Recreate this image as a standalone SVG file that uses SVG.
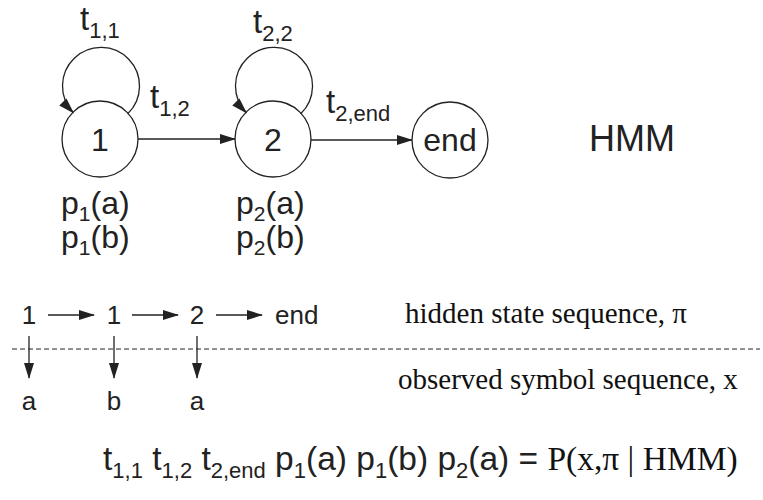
<svg xmlns="http://www.w3.org/2000/svg" width="763" height="500" viewBox="0 0 763 500">
<style>
.node{fill:none;stroke:#222;stroke-width:1.3}
.edge{fill:none;stroke:#222;stroke-width:1.3}
.s{font-family:"Liberation Sans",Arial,sans-serif;fill:#222}
.r{font-family:"Liberation Serif","Times New Roman",serif;fill:#111}
.sub{font-size:22px}
.ps{font-size:21px}
</style>
<defs>
<marker id="ah" markerWidth="16" markerHeight="10" refX="15" refY="5" orient="auto" markerUnits="userSpaceOnUse">
<path d="M0,0 L16,5 L0,10 Z" fill="#222"/>
</marker>
</defs>
<rect width="763" height="500" fill="#fff"/>
<g id="n1">
<circle class="node" cx="100" cy="139" r="38"/>
<text class="s" x="100" y="151" font-size="32" text-anchor="middle">1</text>
<text class="s" x="61" y="214" font-size="32">p<tspan class="ps" dy="7">1</tspan><tspan dy="-7">(a)</tspan></text>
<text class="s" x="61" y="248" font-size="32">p<tspan class="ps" dy="7">1</tspan><tspan dy="-7">(b)</tspan></text>
</g>
<g id="n2">
<circle class="node" cx="273" cy="139" r="38"/>
<text class="s" x="273" y="151" font-size="32" text-anchor="middle">2</text>
<text class="s" x="236" y="214" font-size="32">p<tspan class="ps" dy="7">2</tspan><tspan dy="-7">(a)</tspan></text>
<text class="s" x="236" y="248" font-size="32">p<tspan class="ps" dy="7">2</tspan><tspan dy="-7">(b)</tspan></text>
</g>
<g id="nend">
<circle class="node" cx="450" cy="140" r="38"/>
<text class="s" x="450" y="151" font-size="32" text-anchor="middle">end</text>
</g>
<g id="hmm">
<text class="s" x="589" y="151" font-size="36">HMM</text>
</g>
<g id="connectors">
<path class="edge" d="M127.7,113.7 A38.5,38.5 0 1 0 73.3,112.7" marker-end="url(#ah)"/>
<path class="edge" d="M300.7,113.7 A38.5,38.5 0 1 0 246.3,112.7" marker-end="url(#ah)"/>
<line class="edge" x1="138" y1="139" x2="235" y2="139" marker-end="url(#ah)"/>
<line class="edge" x1="311" y1="140" x2="412" y2="140" marker-end="url(#ah)"/>
<line class="edge" x1="48" y1="315" x2="94" y2="315" marker-end="url(#ah)"/>
<line class="edge" x1="132" y1="315" x2="178" y2="315" marker-end="url(#ah)"/>
<line class="edge" x1="216" y1="315" x2="262" y2="315" marker-end="url(#ah)"/>
<line class="edge" x1="29" y1="336" x2="29" y2="378" marker-end="url(#ah)"/>
<line class="edge" x1="114" y1="336" x2="114" y2="378" marker-end="url(#ah)"/>
<line class="edge" x1="197" y1="336" x2="197" y2="378" marker-end="url(#ah)"/>
<line x1="12" y1="349" x2="760" y2="349" stroke="#222" stroke-width="1.2" stroke-dasharray="5,3"/>
</g>
<g id="labels">
<text class="s" x="80" y="30" font-size="33">t<tspan class="sub" dy="8">1,1</tspan></text>
<text class="s" x="253" y="33" font-size="33">t<tspan class="sub" dy="8">2,2</tspan></text>
<text class="s" x="150" y="108" font-size="33">t<tspan class="sub" dy="8">1,2</tspan></text>
<text class="s" x="326" y="113" font-size="33">t<tspan class="sub" dy="8">2,end</tspan></text>
</g>
<g id="seq">
<text class="s" x="29" y="324" font-size="26" text-anchor="middle">1</text>
<text class="s" x="114" y="324" font-size="26" text-anchor="middle">1</text>
<text class="s" x="197" y="324" font-size="26" text-anchor="middle">2</text>
<text class="s" x="275" y="324" font-size="26">end</text>
<text class="r" x="405" y="323" font-size="29">hidden state sequence, π</text>
<text class="s" x="29" y="410" font-size="26" text-anchor="middle">a</text>
<text class="s" x="114" y="410" font-size="26" text-anchor="middle">b</text>
<text class="s" x="197" y="410" font-size="26" text-anchor="middle">a</text>
<text class="r" x="398" y="389" font-size="29">observed symbol sequence, x</text>
</g>
<g id="equation">
<text x="103" y="470" font-size="33.5"><tspan class="s">t<tspan class="sub" dy="8">1,1</tspan><tspan dy="-8"> t</tspan><tspan class="sub" dy="8">1,2</tspan><tspan dy="-8"> t</tspan><tspan class="sub" dy="8">2,end</tspan><tspan dy="-8"> p</tspan><tspan class="sub" dy="8">1</tspan><tspan dy="-8">(a) p</tspan><tspan class="sub" dy="8">1</tspan><tspan dy="-8">(b) p</tspan><tspan class="sub" dy="8">2</tspan><tspan dy="-8">(a) = </tspan></tspan><tspan class="r">P(x,π | HMM)</tspan></text>
</g>
</svg>
